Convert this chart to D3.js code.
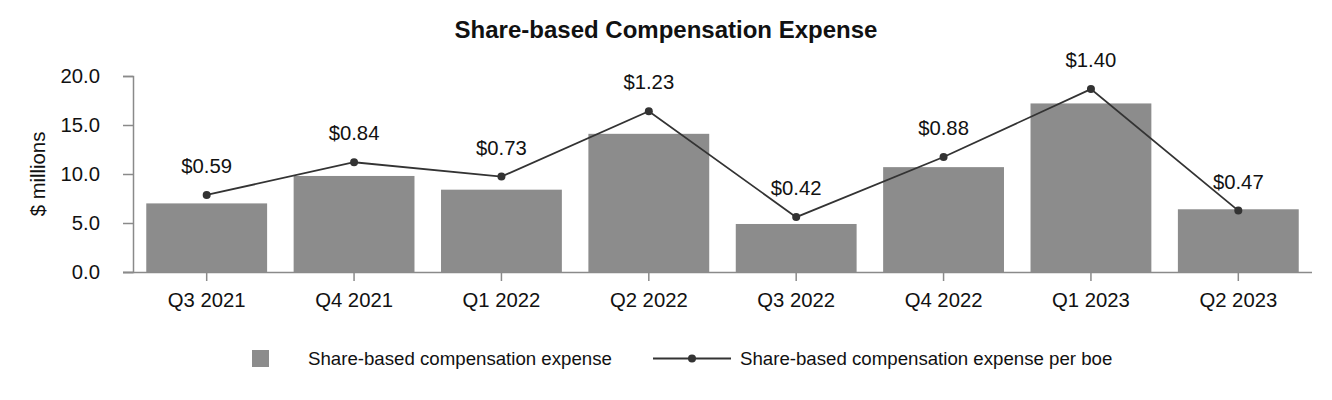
<!DOCTYPE html>
<html>
<head>
<meta charset="utf-8">
<script src="https://cdn.jsdelivr.net/npm/d3@7"></script>
<style>
  html, body { margin: 0; padding: 0; background: #fff; }
  svg { display: block; font-family: "Liberation Sans", Arial, sans-serif; }
</style>
</head>
<body>
<svg id="chart" width="1332" height="400"></svg>
<script>
const categories = ["Q3 2021", "Q4 2021", "Q1 2022", "Q2 2022", "Q3 2022", "Q4 2022", "Q1 2023", "Q2 2023"];
const expense = [7.0, 9.8, 8.4, 14.1, 4.9, 10.7, 17.2, 6.4];
const perBoe = [0.59, 0.84, 0.73, 1.23, 0.42, 0.88, 1.40, 0.47];
const perBoeLabels = ["$0.59", "$0.84", "$0.73", "$1.23", "$0.42", "$0.88", "$1.40", "$0.47"];
const yTicks = [0, 5, 10, 15, 20];

const svg = d3.select("#chart");
const mLeft = 133, mRight = 1312, mTop = 76, mBottom = 272;
const fs = 20.3;
const fsLegend = 18.67;
const axisColor = "#8a8a8a";
const barColor = "#8c8c8c";
const lineColor = "#333333";
const textColor = "#111";

const x = d3.scaleBand().domain(categories).range([mLeft, mRight]).paddingInner(0.18).paddingOuter(0.09);
const y = d3.scaleLinear().domain([0, 20]).range([mBottom, mTop]);
const y2 = d3.scaleLinear().domain([0, 1.5]).range([mBottom, mTop]);

// title
svg.append("text").attr("x", 666).attr("y", 38).attr("text-anchor", "middle")
  .attr("font-size", 24).attr("font-weight", "bold").attr("fill", textColor)
  .text("Share-based Compensation Expense");

// bars
svg.append("g").selectAll("rect").data(categories).join("rect")
  .attr("x", d => x(d)).attr("width", x.bandwidth())
  .attr("y", (d, i) => y(expense[i])).attr("height", (d, i) => y(0) - y(expense[i]))
  .attr("fill", barColor);

// y axis
const yAxis = svg.append("g").attr("transform", `translate(${mLeft},0)`)
  .call(d3.axisLeft(y).tickValues(yTicks).tickFormat(d3.format(".1f")).tickSize(10).tickPadding(23));
yAxis.select(".domain").attr("stroke", axisColor).attr("stroke-width", 1.5);
yAxis.selectAll(".tick line").attr("stroke", axisColor).attr("stroke-width", 1.5);
yAxis.selectAll(".tick text").attr("font-size", fs).attr("fill", textColor).attr("font-family", "Liberation Sans, Arial, sans-serif");

// x axis
const xAxis = svg.append("g").attr("transform", `translate(0,${mBottom})`)
  .call(d3.axisBottom(x).tickSize(9).tickPadding(12).tickSizeOuter(0));
xAxis.select(".domain").attr("stroke", axisColor).attr("stroke-width", 1.5)
  .attr("d", `M${mLeft - 10},0.5H${mRight}`);
xAxis.selectAll(".tick line").attr("stroke", axisColor).attr("stroke-width", 1.5);
xAxis.selectAll(".tick text").attr("font-size", fs).attr("fill", textColor).attr("font-family", "Liberation Sans, Arial, sans-serif");

// y label
svg.append("text").attr("transform", "translate(45,174) rotate(-90)")
  .attr("text-anchor", "middle").attr("font-size", fs).attr("fill", textColor)
  .text("$ millions");

// line
const cx = d => x(d) + x.bandwidth() / 2;
const line = d3.line().x((d, i) => cx(categories[i])).y(d => y2(d));
svg.append("path").datum(perBoe).attr("d", line)
  .attr("fill", "none").attr("stroke", lineColor).attr("stroke-width", 1.8);
svg.append("g").selectAll("circle").data(perBoe).join("circle")
  .attr("cx", (d, i) => cx(categories[i])).attr("cy", d => y2(d)).attr("r", 4)
  .attr("fill", lineColor);
svg.append("g").selectAll("text").data(perBoe).join("text")
  .attr("x", (d, i) => cx(categories[i])).attr("y", d => y2(d) - 22)
  .attr("text-anchor", "middle").attr("font-size", fs).attr("fill", textColor)
  .text((d, i) => perBoeLabels[i]);

// legend
const lg = svg.append("g");
lg.append("rect").attr("x", 252).attr("y", 350).attr("width", 17).attr("height", 17).attr("fill", barColor);
lg.append("text").attr("x", 308).attr("y", 365).attr("font-size", fsLegend).attr("fill", textColor)
  .text("Share-based compensation expense");
lg.append("line").attr("x1", 653).attr("x2", 731).attr("y1", 358.5).attr("y2", 358.5)
  .attr("stroke", lineColor).attr("stroke-width", 1.8);
lg.append("circle").attr("cx", 692).attr("cy", 358.5).attr("r", 4).attr("fill", lineColor);
lg.append("text").attr("x", 740).attr("y", 365).attr("font-size", fsLegend).attr("fill", textColor)
  .text("Share-based compensation expense per boe");
</script>
</body>
</html>
